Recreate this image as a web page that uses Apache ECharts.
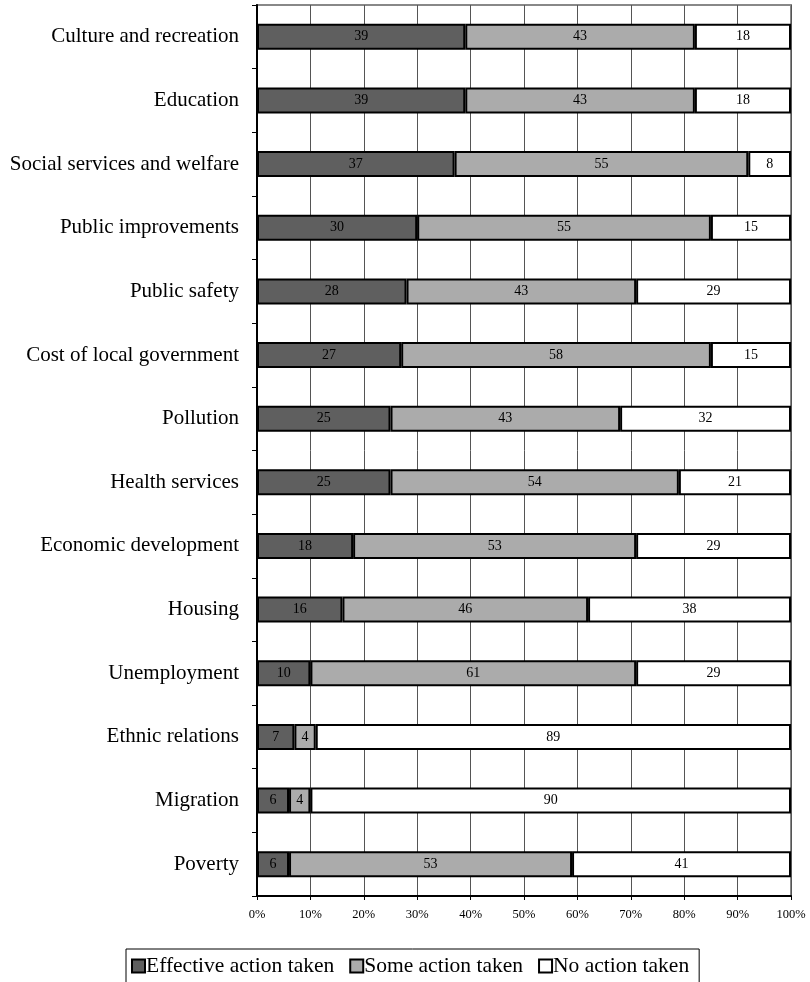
<!DOCTYPE html>
<html>
<head>
<meta charset="utf-8">
<script src="https://cdn.jsdelivr.net/npm/echarts@6/dist/echarts.min.js"></script>
<style>html,body{margin:0;padding:0;background:#fff}#c{width:810px;height:982px}</style>
</head>
<body>
<div id="c"></div>
<script>
const categories = ["Culture and recreation","Education","Social services and welfare","Public improvements","Public safety","Cost of local government","Pollution","Health services","Economic development","Housing","Unemployment","Ethnic relations","Migration","Poverty"];
const effective = [39,39,37,30,28,27,25,25,18,16,10,7,6,6];
const some = [43,43,55,55,43,58,43,54,53,46,61,4,4,53];
const none = [18,18,8,15,29,15,32,21,29,38,29,89,90,41];
const seriesNames = ["Effective action taken","Some action taken","No action taken"];
const tickValues = [0,10,20,30,40,50,60,70,80,90,100];

const font = '"Liberation Serif","Times New Roman",serif';
const colors = ['#5f5f5f','#ababab','#ffffff'];
const datasets = [effective, some, none];

const chart = echarts.init(document.getElementById('c'), null, {renderer:'canvas'});
chart.setOption({
  animation:false,
  backgroundColor:'#fff',
  grid:{left:257,right:19,top:5,height:891,show:true,borderColor:'#888',borderWidth:2,backgroundColor:'transparent'},
  legend:{
    left:126, top:949,
    data:seriesNames,
    orient:'horizontal',
    borderColor:'#000', borderWidth:1, borderRadius:0,
    padding:[6,10,6,5],
    itemGap:15, itemWidth:13, itemHeight:13,
    icon:'rect',
    textStyle:{fontFamily:font,fontSize:21.5,color:'#000',padding:[0,0,0,-4]},
    selectedMode:false
  },
  xAxis:{
    type:'value', min:0, max:100, interval:10,
    axisLine:{show:true,lineStyle:{color:'#000',width:2}},
    axisTick:{show:true,length:4,lineStyle:{color:'#000'}},
    axisLabel:{fontFamily:font,fontSize:12.5,color:'#000',margin:12,formatter:v=>tickValues.includes(v)?v+'%':''},
    splitLine:{show:true,lineStyle:{color:'#555',width:1}}
  },
  yAxis:{
    type:'category', data:categories, inverse:true,
    axisLine:{show:true,lineStyle:{color:'#000',width:2}},
    axisTick:{show:true,length:5,inside:false,alignWithLabel:false,lineStyle:{color:'#000'}},
    axisLabel:{fontFamily:font,fontSize:21,color:'#000',margin:18},
    splitLine:{show:false}
  },
  series: datasets.map((d,i)=>({
    name:seriesNames[i], type:'bar', stack:'total', data:d, barWidth:26,
    itemStyle:{color:colors[i],borderColor:'#000',borderWidth:2},
    label:{show:true,position:'inside',fontFamily:font,fontSize:14,color:'#000'}
  }))
});
</script>
</body>
</html>
